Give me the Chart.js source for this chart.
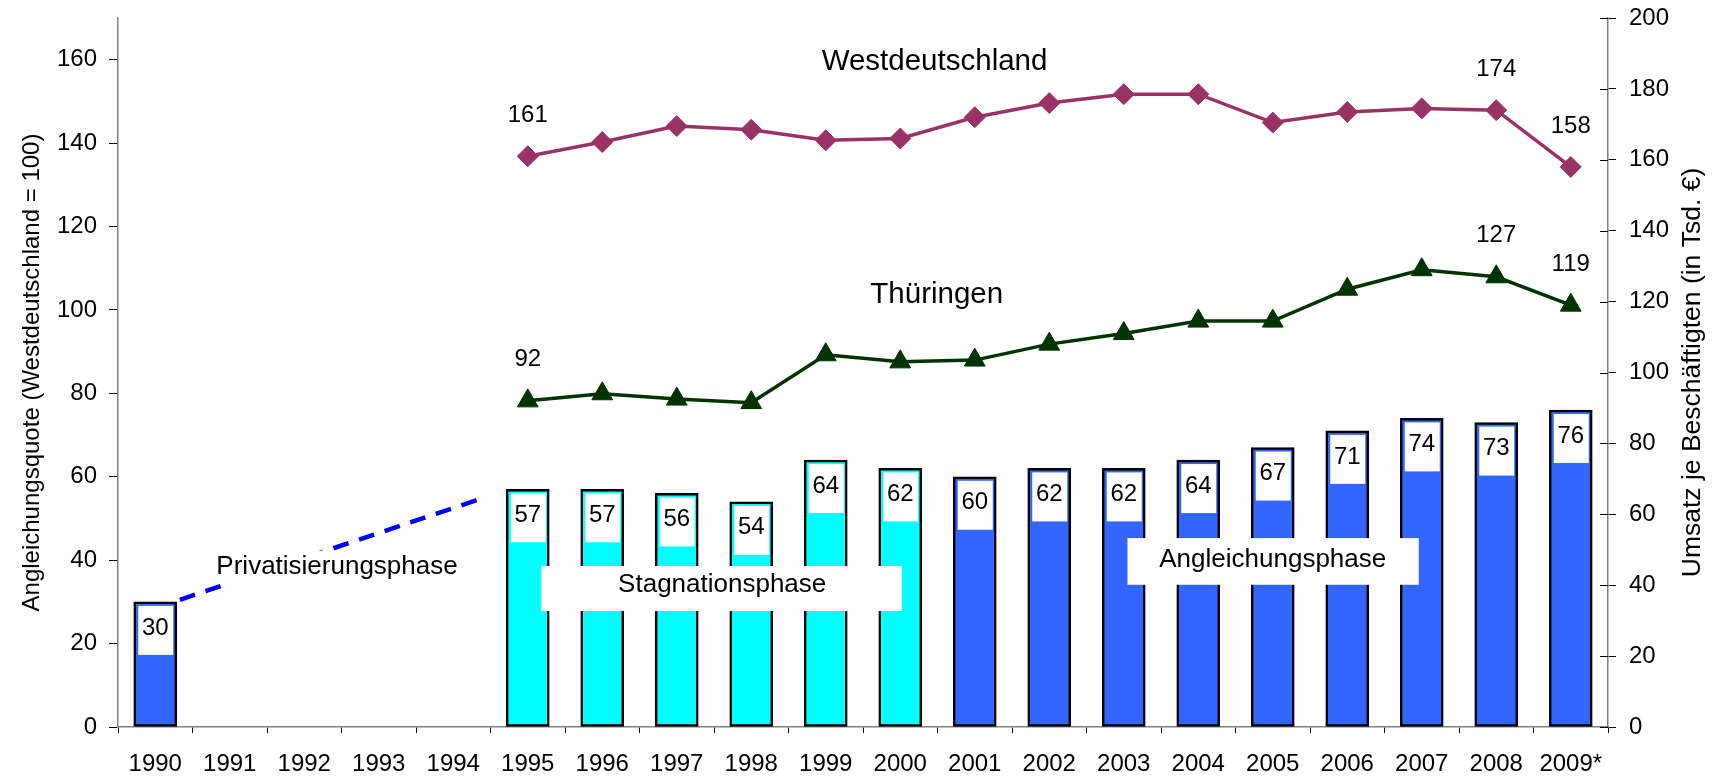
<!DOCTYPE html>
<html><head><meta charset="utf-8">
<script src="https://cdn.jsdelivr.net/npm/chart.js@4.4.1/dist/chart.umd.min.js"></script>
<style>html,body{margin:0;padding:0;background:#fff;}#wrap{width:1717px;height:776px;position:relative;}</style>
</head><body><div id="wrap"><canvas id="c" width="1717" height="776"></canvas></div>
<script>
// ---- data ----
const years = ['1990','1991','1992','1993','1994','1995','1996','1997','1998','1999','2000','2001','2002','2003','2004','2005','2006','2007','2008','2009*'];
const angleichungsquote = [30,null,null,null,null,57,57,56,54,64,62,60,62,62,64,67,71,74,73,76];
const umsatzWest = [null,null,null,null,null,161,165,169.5,168.5,165.5,166,172,176,178.5,178.5,170.5,173.5,174.5,174,158];
const umsatzThueringen = [null,null,null,null,null,92,94,92.5,91.5,105,103,103.5,108,111,114.5,114.5,123.5,129,127,119];
const phase = ['P','P','P','P','P','S','S','S','S','S','S','A','A','A','A','A','A','A','A','A'];
// dashed trend line 1990 -> 1995 (x: category index, y: left-axis value)
const privatisierungTrend = [{x:0.33,y:30.5},{x:4.45,y:55.2}];
const leftTicks = {min:0,max:170,step:20};
const rightTicks = {min:0,max:200,step:20};
const labelledIdx = [5,18,19];

const FONT = 'Liberation Sans, Arial, sans-serif';
const phaseColor = {P:'#3366FF',S:'#00FFFF',A:'#3366FF'};

// annotation anchors in data units (x: category index, y: left-axis value)
const annotations = [
  {text:'Westdeutschland', x:10.46, y:159.5, size:29.5},
  {text:'Thüringen', x:10.49, y:103.5, size:29.5},
  {text:'Privatisierungsphase', x:2.44, y:38.4, size:26, box:[0.95,4.1,42.3,32]},
  {text:'Stagnationsphase', x:7.61, y:34.05, size:26, box:[5.18,10.02,38.6,27.8]},
  {text:'Angleichungsphase', x:15.0, y:40.1, size:26, box:[13.05,16.96,45.3,34.1]}
];
const rightTitle = 'Umsatz je Beschäftigten (in Tsd. €)';

const overlay = {
  id:'overlay',
  afterDatasetsDraw(chart){
    const ctx = chart.ctx;
    const xs = chart.scales.x, ys = chart.scales.y;
    ctx.save();
    // bar value boxes
    const bm = chart.getDatasetMeta(3);
    bm.data.forEach((bar,i)=>{
      const v = angleichungsquote[i];
      if (v == null) return;
      const w = bar.width;
      ctx.fillStyle = '#fff';
      ctx.fillRect(bar.x - w/2 + 4.5, bar.y + 4, w - 8, 49);
      ctx.fillStyle = '#000';
      ctx.font = '24px ' + FONT;
      ctx.textAlign = 'center';
      ctx.textBaseline = 'middle';
      ctx.fillText(String(v), bar.x, bar.y + 26);
    });
    // line value labels
    [[0,umsatzWest],[1,umsatzThueringen]].forEach(([di,arr])=>{
      const m = chart.getDatasetMeta(di);
      labelledIdx.forEach(i=>{
        const p = m.data[i];
        ctx.fillStyle = '#000';
        ctx.font = '24px ' + FONT;
        ctx.textAlign = 'center';
        ctx.textBaseline = 'middle';
        ctx.fillText(String(Math.round(arr[i])), p.x, p.y - 41);
      });
    });
    // annotations
    annotations.forEach(a=>{
      if (a.box){
        const x0 = xs.getPixelForValue(a.box[0]), x1 = xs.getPixelForValue(a.box[1]);
        const y0 = ys.getPixelForValue(a.box[2]), y1 = ys.getPixelForValue(a.box[3]);
        ctx.fillStyle = '#fff';
        ctx.fillRect(x0, y0, x1 - x0, y1 - y0);
      }
      ctx.fillStyle = '#000';
      ctx.font = a.size + 'px ' + FONT;
      ctx.textAlign = 'center';
      ctx.textBaseline = 'middle';
      ctx.fillText(a.text, xs.getPixelForValue(a.x), ys.getPixelForValue(a.y));
    });
    ctx.restore();
  },
  afterDraw(chart){
    const ctx = chart.ctx;
    const y2 = chart.scales.y2;
    ctx.save();
    // inner half of crossing ticks on right axis
    ctx.strokeStyle = '#000';
    ctx.lineWidth = 1;
    y2.ticks.forEach(t=>{
      const py = Math.round(y2.getPixelForValue(t.value)) + 0.5;
      ctx.beginPath();
      ctx.moveTo(y2.left - 8, py);
      ctx.lineTo(y2.left, py);
      ctx.stroke();
    });
    // right axis title, reading bottom-to-top
    ctx.translate(1693, (chart.chartArea.top + chart.chartArea.bottom)/2);
    ctx.rotate(-Math.PI/2);
    ctx.fillStyle = '#000';
    ctx.font = '26.5px ' + FONT;
    ctx.textAlign = 'center';
    ctx.textBaseline = 'middle';
    ctx.fillText(rightTitle, 0, 0);
    ctx.restore();
  }
};

const tickFont = {family: FONT, size: 24};

new Chart(document.getElementById('c'), {
  type: 'bar',
  data: {
    labels: years,
    datasets: [
      {type:'line', label:'Westdeutschland', data: umsatzWest, xAxisID:'x', yAxisID:'y2',
       borderColor:'#993366', backgroundColor:'#993366', borderWidth:3.5,
       pointStyle:'rectRot', pointRadius:10.5, pointBorderWidth:1, pointBackgroundColor:'#993366', pointBorderColor:'#993366', tension:0},
      {type:'line', label:'Thüringen', data: umsatzThueringen, xAxisID:'x', yAxisID:'y2',
       borderColor:'#003300', backgroundColor:'#003300', borderWidth:3.5,
       pointStyle:'triangle', pointRadius:12, pointBorderWidth:1, pointBackgroundColor:'#003300', pointBorderColor:'#003300', tension:0},
      {type:'line', label:'Privatisierung', data: privatisierungTrend, parsing:false, xAxisID:'x', yAxisID:'y',
       borderColor:'#0000FF', borderWidth:4.5, borderDash:[16,11], pointRadius:0, fill:false, tension:0},
      {type:'bar', label:'Angleichungsquote', data: angleichungsquote, xAxisID:'x', yAxisID:'y',
       backgroundColor: phase.map(p=>phaseColor[p]), borderColor:'#000', borderWidth:2.5, borderSkipped:false,
       grouped:false, barThickness:43}
    ]
  },
  options: {
    responsive:false, animation:false,
    layout:{padding:{left:0,right:0,top:18,bottom:0}},
    plugins:{legend:{display:false}, tooltip:{enabled:false}},
    scales:{
      x:{type:'category', position:'bottom', offset:true, min:0, max:19,
         grid:{display:true, drawOnChartArea:false, drawTicks:true, tickLength:6, color:'#000', offset:true},
         border:{display:true, color:'#808080', width:1.5},
         ticks:{font:tickFont, color:'#000', padding:17, maxRotation:0, autoSkip:false},
         afterFit(s){ s.height = 49; s.paddingLeft = 0; s.paddingRight = 0; }},
      y:{type:'linear', position:'left', min:leftTicks.min, max:leftTicks.max,
         grid:{drawOnChartArea:false, drawTicks:true, tickLength:9, color:'#000'},
         border:{display:true, color:'#808080', width:1.5},
         ticks:{stepSize:leftTicks.step, includeBounds:false, font:tickFont, color:'#000', padding:12},
         title:{display:true, text:'Angleichungsquote (Westdeutschland = 100)', font:{family:FONT,size:24}, color:'#000', padding:{top:18,bottom:0}},
         afterFit(s){ s.width = 118; s.paddingTop = 0; s.paddingBottom = 0; }},
      y2:{type:'linear', position:'right', min:rightTicks.min, max:rightTicks.max,
         grid:{drawOnChartArea:false, drawTicks:true, tickLength:8, color:'#000'},
         border:{display:true, color:'#808080', width:1.5},
         ticks:{stepSize:rightTicks.step, includeBounds:false, font:tickFont, color:'#000', padding:13},
         afterFit(s){ s.width = 109; s.paddingTop = 0; s.paddingBottom = 0; }}
    }
  },
  plugins:[overlay]
});
</script></body></html>
